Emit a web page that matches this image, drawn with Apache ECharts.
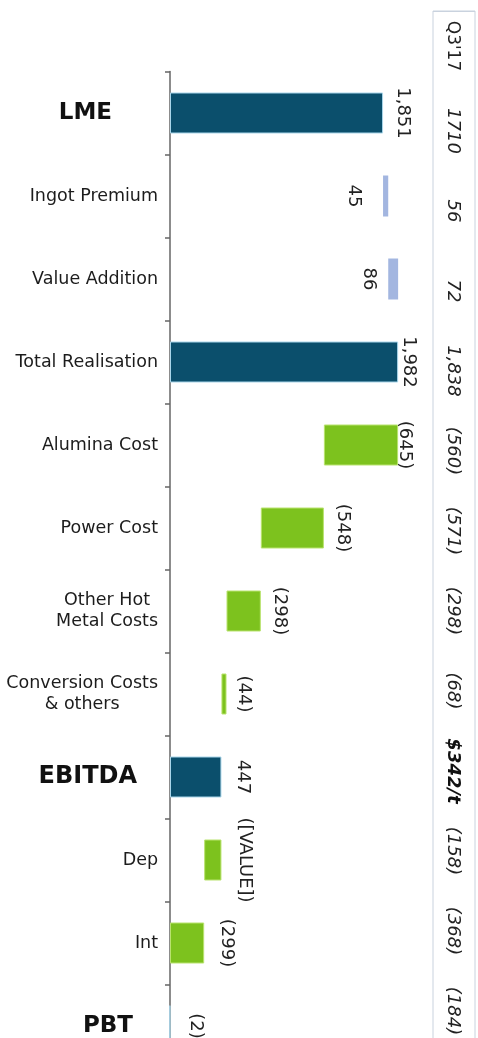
<!DOCTYPE html>
<html>
<head>
<meta charset="utf-8">
<script src="https://cdn.jsdelivr.net/npm/echarts@6/dist/echarts.min.js"></script>
<style>
  html, body { margin: 0; padding: 0; background: #ffffff; }
  #chart { width: 478px; height: 1038px; }
</style>
</head>
<body>
<div id="chart"></div>
<script>
// Cost walk, LME to PBT ($/t)
const categories = ['LME', 'Ingot Premium', 'Value Addition', 'Total Realisation', 'Alumina Cost',
  'Power Cost', 'Other Hot\nMetal Costs', 'Conversion Costs\n& others', 'EBITDA', 'Dep', 'Int', 'PBT'];
// 'total' bars start at zero, 'delta' bars float on the running sum
const kinds = ['total', 'delta', 'delta', 'total', 'delta', 'delta', 'delta', 'delta', 'total', 'delta', 'delta', 'total'];
const values = [1851, 45, 86, 1982, -645, -548, -298, -44, 447, -150, -299, -2];
const labelOverrides = { Dep: '([VALUE])' };

// Comparison column
const q3Header = "Q3'17";
const q3Values = ['1710', '56', '72', '1,838', '(560)', '(571)', '(298)', '(68)', '$342/t', '(158)', '(368)', '(184)'];
const q3Bold = ['$342/t'];

const FONT = 'DejaVu Sans';
const COLORS = {
  total: { color: '#0b4f6c', borderColor: '#a9d6ea', borderWidth: 1 },
  up: { color: '#a3b6e0' },
  down: { color: '#7dc21e', borderColor: '#b9e36e', borderWidth: 1 }
};

// headline rows: bold, set in from the axis
const headlineStyle = {
  LME: { fontSize: 23, inset: 46 },
  EBITDA: { fontSize: 24, inset: 21 },
  PBT: { fontSize: 23, inset: 25 }
};

// per-bar label placement (side of the bar, gap, nudge)
const labelPlacement = [
  { side: 'right', gap: 11 }, { side: 'left', gap: 20 }, { side: 'left', gap: 11 },
  { side: 'right', gap: 2 }, { side: 'right', gap: 0, dy: 2 }, { side: 'right', gap: 10 },
  { side: 'right', gap: 10 }, { side: 'right', gap: 8 }, { side: 'right', gap: 12 },
  { side: 'right', gap: 12, dy: -2 }, { side: 'right', gap: 3, dy: -10 }, { side: 'right', gap: 10, dy: -6 }
];

function fmtValue(v) {
  const s = Math.abs(v).toLocaleString('en-US');
  return v < 0 ? '(' + s + ')' : s;
}

// waterfall: invisible base + visible segment
const baseData = [];
const barData = [];
let running = 0;
values.forEach((v, i) => {
  let start, end;
  if (kinds[i] === 'total') { start = 0; end = v; running = v; }
  else { start = running; end = running + v; running = end; }
  const lo = Math.min(start, end), hi = Math.max(start, end);
  let base, seg;
  if (hi <= 0) { base = 0; seg = lo; }
  else { base = Math.max(lo, 0); seg = hi - base; }
  const style = kinds[i] === 'total' ? COLORS.total : (v >= 0 ? COLORS.up : COLORS.down);
  const p = labelPlacement[i];
  baseData.push(base);
  barData.push({
    value: seg,
    itemStyle: style,
    label: {
      show: true,
      position: p.side,
      distance: p.gap,
      offset: [0, p.dy || 0],
      rotate: -90,
      align: 'center',
      verticalAlign: p.side === 'right' ? 'bottom' : 'top',
      formatter: () => labelOverrides[categories[i]] || fmtValue(v)
    }
  });
});

// rich styles for the category labels
const categoryRich = {
  c: { fontFamily: FONT, fontSize: 17.5, color: '#1c1c1c', lineHeight: 21, align: 'center' }
};
Object.keys(headlineStyle).forEach(name => {
  const h = headlineStyle[name];
  categoryRich['h' + name] = {
    fontFamily: FONT, fontSize: h.fontSize, fontWeight: 'bold', color: '#111111',
    padding: [0, h.inset, 0, 0]
  };
});

const chart = echarts.init(document.getElementById('chart'), null, { renderer: 'canvas' });

chart.setOption({
  animation: false,
  backgroundColor: '#ffffff',
  grid: [
    { left: 170, top: 71.5, width: 230.2, height: 996, containLabel: false, outerBoundsMode: 'none' },
    { left: 433, top: 11, width: 42, height: 1040, show: true, borderColor: '#c9d2de', borderWidth: 1,
      backgroundColor: 'transparent', outerBoundsMode: 'none' }
  ],
  xAxis: [
    { type: 'value', gridIndex: 0, min: 0, max: 2000, show: false },
    { type: 'value', gridIndex: 1, min: 0, max: 1, show: false }
  ],
  yAxis: [
    {
      type: 'category', gridIndex: 0, data: categories, inverse: true,
      axisLine: { show: true, onZero: false, lineStyle: { color: '#666666', width: 1.5 } },
      axisTick: { show: true, length: 5, lineStyle: { color: '#666666', width: 1.5 } },
      axisLabel: {
        interval: 0, margin: 12, fontFamily: FONT, fontSize: 17.5, color: '#1c1c1c', lineHeight: 21,
        formatter: (val) => {
          if (headlineStyle[val]) return '{h' + val + '|' + val + '}';
          return val.split('\n').map(line => '{c|' + line + '}').join('\n');
        },
        rich: categoryRich
      }
    },
    {
      type: 'category', gridIndex: 1, data: [q3Header].concat(q3Values), inverse: true,
      axisLine: { show: false }, axisTick: { show: false },
      splitLine: { show: true, interval: (idx) => idx === 1, lineStyle: { color: '#c9d2de', width: 1 } },
      axisLabel: {
        interval: 0, inside: true, rotate: -90, margin: 11,
        formatter: (val, idx) => {
          if (idx === 0) return '{h|' + val + '}';
          if (q3Bold.includes(val)) return '{s|' + val + '}';
          return '{v|' + val + '}';
        },
        rich: {
          h: { fontFamily: FONT, fontSize: 17, color: '#222222', padding: [0, 10, 0, 0] },
          v: { fontFamily: FONT, fontSize: 18, fontStyle: 'italic', color: '#222222' },
          s: { fontFamily: FONT, fontSize: 18, fontStyle: 'italic', fontWeight: 'bold', color: '#111111' }
        }
      }
    }
  ],
  series: [
    {
      name: 'base', type: 'bar', stack: 'walk', xAxisIndex: 0, yAxisIndex: 0,
      barWidth: 41, silent: true,
      itemStyle: { color: 'transparent' },
      data: baseData
    },
    {
      name: 'value', type: 'bar', stack: 'walk', xAxisIndex: 0, yAxisIndex: 0,
      barWidth: 41, clip: false,
      label: { fontFamily: FONT, fontSize: 18, color: '#222222' },
      data: barData
    },
    {
      name: 'column', type: 'scatter', xAxisIndex: 1, yAxisIndex: 1, data: [], silent: true
    }
  ]
});
</script>
</body>
</html>
